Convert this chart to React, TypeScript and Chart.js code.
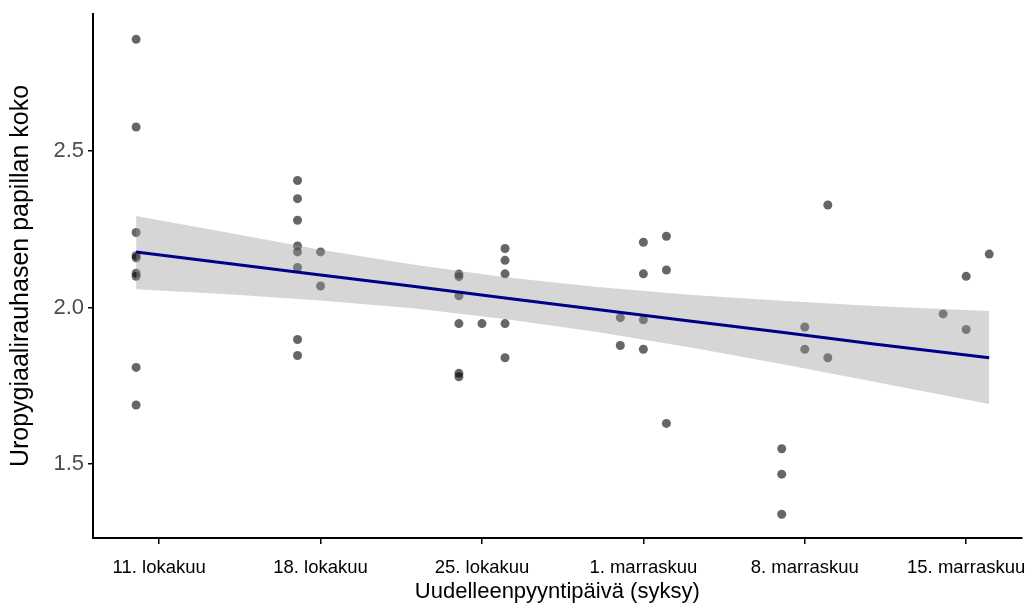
import React, { useEffect, useRef } from "react";
import { Chart, registerables } from "chart.js";

Chart.register(...registerables);

// x = days after 11. lokakuu (11 Oct = 0)
const tickDays = [0, 7, 14, 21, 28, 35];
const tickLabels = ["11. lokakuu", "18. lokakuu", "25. lokakuu", "1. marraskuu", "8. marraskuu", "15. marraskuu"];
const yTicks = [1.5, 2.0, 2.5];

const pointDays = [
  -1, -1, -1, -1, -1, -1, -1, -1, -1,
  6, 6, 6, 6, 6, 6, 6, 6,
  7, 7,
  13, 13, 13, 13, 13, 13,
  14,
  15, 15, 15, 15, 15,
  20, 20,
  21, 21, 21, 21,
  22, 22, 22,
  27, 27, 27,
  28, 28,
  29, 29,
  34,
  35, 35,
  36,
];
const pointValues = [
  2.857, 2.577, 2.24, 2.166, 2.159, 2.11, 2.1, 1.809, 1.689,
  2.406, 2.348, 2.279, 2.197, 2.178, 2.128, 1.898, 1.847,
  2.178, 2.069,
  2.107, 2.099, 2.038, 1.949, 1.79, 1.779,
  1.949,
  2.189, 2.151, 2.108, 1.949, 1.84,
  1.968, 1.879,
  2.209, 2.108, 1.961, 1.867,
  2.228, 2.12, 1.63,
  1.549, 1.468, 1.34,
  1.938, 1.867,
  2.328, 1.84,
  1.98,
  2.1, 1.93,
  2.171,
];

// fitted line and confidence band
const fitDays = [-1, 3, 7, 11, 15, 19, 23, 27, 31, 36];
const fitValues = [2.178, 2.141, 2.104, 2.068, 2.031, 1.994, 1.957, 1.921, 1.884, 1.84];
const bandUpper = [2.293, 2.239, 2.185, 2.138, 2.097, 2.066, 2.041, 2.022, 2.005, 1.989];
const bandLower = [2.059, 2.043, 2.023, 1.998, 1.964, 1.922, 1.873, 1.82, 1.763, 1.692];

export default function App() {
  const ref = useRef<HTMLCanvasElement | null>(null);

  useEffect(() => {
    if (!ref.current) return;
    const toXY = (xs: number[], ys: number[]) => xs.map((x, i) => ({ x, y: ys[i] }));
    const chart = new Chart(ref.current, {
      type: "line",
      data: {
        datasets: [
          {
            label: "fit",
            data: toXY(fitDays, fitValues),
            borderColor: "#00008B",
            borderWidth: 3,
            pointRadius: 0,
            fill: false,
            tension: 0,
          },
          {
            label: "upper",
            data: toXY(fitDays, bandUpper),
            borderWidth: 0,
            borderColor: "rgba(0,0,0,0)",
            backgroundColor: "rgba(153,153,153,0.4)",
            pointRadius: 0,
            fill: "+1",
            tension: 0,
          },
          {
            label: "lower",
            data: toXY(fitDays, bandLower),
            borderWidth: 0,
            borderColor: "rgba(0,0,0,0)",
            pointRadius: 0,
            fill: false,
            tension: 0,
          },
          {
            type: "scatter",
            label: "points",
            data: toXY(pointDays, pointValues),
            pointRadius: 4.5,
            pointBackgroundColor: "rgba(0,0,0,0.6)",
            pointBorderWidth: 0,
            borderColor: "rgba(0,0,0,0)",
            showLine: false,
          } as any,
        ],
      },
      options: {
        responsive: false,
        animation: false,
        layout: { padding: { left: 0, top: 14, right: 3, bottom: 0 } },
        plugins: { legend: { display: false }, tooltip: { enabled: false } },
        scales: {
          x: {
            type: "linear",
            min: -2.87,
            max: 37.4,
            afterBuildTicks: (s: any) => {
              s.ticks = tickDays.map((v) => ({ value: v }));
            },
            afterFit: (s: any) => {
              s.height = 70;
              s.paddingLeft = 0;
              s.paddingRight = 0;
            },
            ticks: {
              autoSkip: false,
              maxRotation: 0,
              padding: 13,
              color: "#000",
              font: { family: "'Liberation Sans', Arial, sans-serif", size: 18.5 },
              callback: (v: any) => {
                const i = tickDays.indexOf(Number(v));
                return i >= 0 ? tickLabels[i] : "";
              },
            },
            grid: { drawOnChartArea: false, drawTicks: true, tickLength: 6, color: "#000", lineWidth: 1.5 },
            border: { display: true, color: "#000", width: 2 },
            title: {
              display: true,
              text: "Uudelleenpyyntipäivä (syksy)",
              color: "#000",
              font: { family: "'Liberation Sans', Arial, sans-serif", size: 22 },
              padding: { top: 0, bottom: 3 },
            },
          },
          y: {
            type: "linear",
            min: 1.264,
            max: 2.938,
            afterBuildTicks: (s: any) => {
              s.ticks = yTicks.map((v) => ({ value: v }));
            },
            afterFit: (s: any) => {
              s.width = 93;
              s.paddingTop = 0;
              s.paddingBottom = 0;
            },
            ticks: {
              padding: 4,
              color: "#4d4d4d",
              font: { family: "'Liberation Sans', Arial, sans-serif", size: 22 },
              callback: (v: any) => Number(v).toFixed(1),
            },
            grid: { drawOnChartArea: false, drawTicks: true, tickLength: 5, color: "#000", lineWidth: 1.5 },
            border: { display: true, color: "#000", width: 2 },
            title: {
              display: true,
              text: "Uropygiaalirauhasen papillan koko",
              color: "#000",
              font: { family: "'Liberation Sans', Arial, sans-serif", size: 25 },
              padding: { top: 6, bottom: 0 },
            },
          },
        },
      },
    });
    return () => chart.destroy();
  }, []);

  return (
    <div style={{ position: "absolute", left: 0, top: 0, width: 1026, height: 608, background: "#fff" }}>
      <canvas ref={ref} width={1026} height={608} style={{ width: 1026, height: 608, display: "block" }} />
    </div>
  );
}
